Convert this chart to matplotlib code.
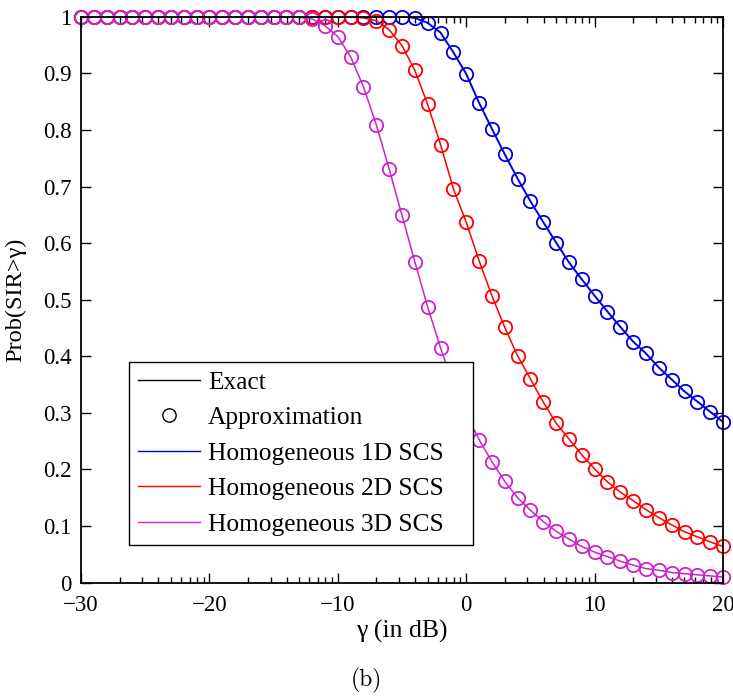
import numpy as np
import matplotlib.pyplot as plt
from matplotlib.lines import Line2D
from matplotlib.ticker import FixedLocator

plt.rcParams['font.family'] = ['Liberation Serif', 'DejaVu Serif']
plt.rcParams['xtick.direction'] = 'in'
plt.rcParams['ytick.direction'] = 'in'

gamma_db = list(range(-30, 21))
p_1d = [1.0] * 26 + [0.998, 0.989, 0.972, 0.937, 0.899, 0.848, 0.802, 0.757, 0.714,
                     0.674, 0.637, 0.601, 0.566, 0.536, 0.507, 0.479, 0.452, 0.426,
                     0.405, 0.380, 0.359, 0.338, 0.320, 0.302, 0.284]
p_2d = [1.0] * 22 + [0.998, 0.993, 0.977, 0.949, 0.905, 0.845, 0.774, 0.696, 0.637,
                     0.569, 0.507, 0.451, 0.401, 0.360, 0.319, 0.282, 0.254, 0.226,
                     0.201, 0.178, 0.160, 0.145, 0.129, 0.115, 0.102, 0.090, 0.081,
                     0.072, 0.064]
p_3d = [1.0] * 17 + [0.999, 0.996, 0.984, 0.965, 0.929, 0.876, 0.809, 0.731, 0.649,
                     0.567, 0.487, 0.415, 0.350, 0.297, 0.253, 0.214, 0.179, 0.150,
                     0.128, 0.108, 0.091, 0.077, 0.064, 0.054, 0.046, 0.038, 0.031,
                     0.025, 0.022, 0.018, 0.016, 0.014, 0.012, 0.010]
series_names = ['Homogeneous 1D SCS', 'Homogeneous 2D SCS', 'Homogeneous 3D SCS']
colors = ['#0000dd', '#ff0000', '#cc22cc']
widths = [1.4, 1.1, 1.1]

fig = plt.figure(figsize=(7.33, 6.97), dpi=100)
ax = fig.add_axes([0.1105, 0.164, 0.8759, 0.812])

for p, c, w in zip([p_1d, p_2d, p_3d], colors, widths):
    ax.plot(gamma_db, p, color=c, lw=w)
    ax.plot(gamma_db, p, linestyle='none', marker='o', ms=9.6, mfc='none',
            mec=c, mew=1.3, clip_on=False)

ax.set_xlim(-30, 20)
ax.set_ylim(0, 1)
ax.set_xticks(range(-30, 21, 10))
ax.set_xticklabels(['\u221230', '\u221220', '\u221210', '0', '10', '20'])
# matlab-style log-like minor ticks inside each decade
minor = [a + 10 * np.log10(k) for a in range(-30, 20, 10) for k in range(2, 10)]
ax.xaxis.set_minor_locator(FixedLocator(minor))
ax.set_yticks(np.arange(0, 1.01, 0.1))
ax.set_yticklabels(['0', '0.1', '0.2', '0.3', '0.4', '0.5', '0.6', '0.7', '0.8', '0.9', '1'])
ax.tick_params(which='both', top=True, right=True, labelsize=16.5, width=1)
ax.tick_params(which='major', length=7)
ax.tick_params(axis='x', which='major', pad=9)
ax.tick_params(axis='y', which='major', pad=7)
ax.tick_params(which='minor', length=4)
for s in ax.spines.values():
    s.set_linewidth(1.3)

ax.set_xlabel('\u03b3 (in dB)', fontsize=18.5)
ax.set_ylabel('Prob(SIR>\u03b3)', fontsize=17.6)
ax.xaxis.set_label_coords(0.5, -0.066)
ax.yaxis.set_label_coords(-0.085, 0.5)

handles = [Line2D([], [], color='black', lw=1),
           Line2D([], [], color='black', linestyle='none', marker='o', ms=9.6, mfc='none', mew=1)]
handles += [Line2D([], [], color=c, lw=1) for c in colors]
labels = ['Exact', 'Approximation'] + series_names
leg = ax.legend(handles, labels, loc='lower left',
                bbox_to_anchor=(0.0748, 0.0666, 0.5358, 0.3), mode='expand',
                borderaxespad=0, fontsize=18.3, fancybox=False, framealpha=1,
                edgecolor='black', handlelength=2.45, handletextpad=0.3,
                labelspacing=0.5, borderpad=0.36)
leg.get_frame().set_linewidth(1.0)

fig.text(0.5, 0.015, '(b)', fontsize=17, ha='center', family='cmr10')

fig.savefig('out.png', dpi=100)
